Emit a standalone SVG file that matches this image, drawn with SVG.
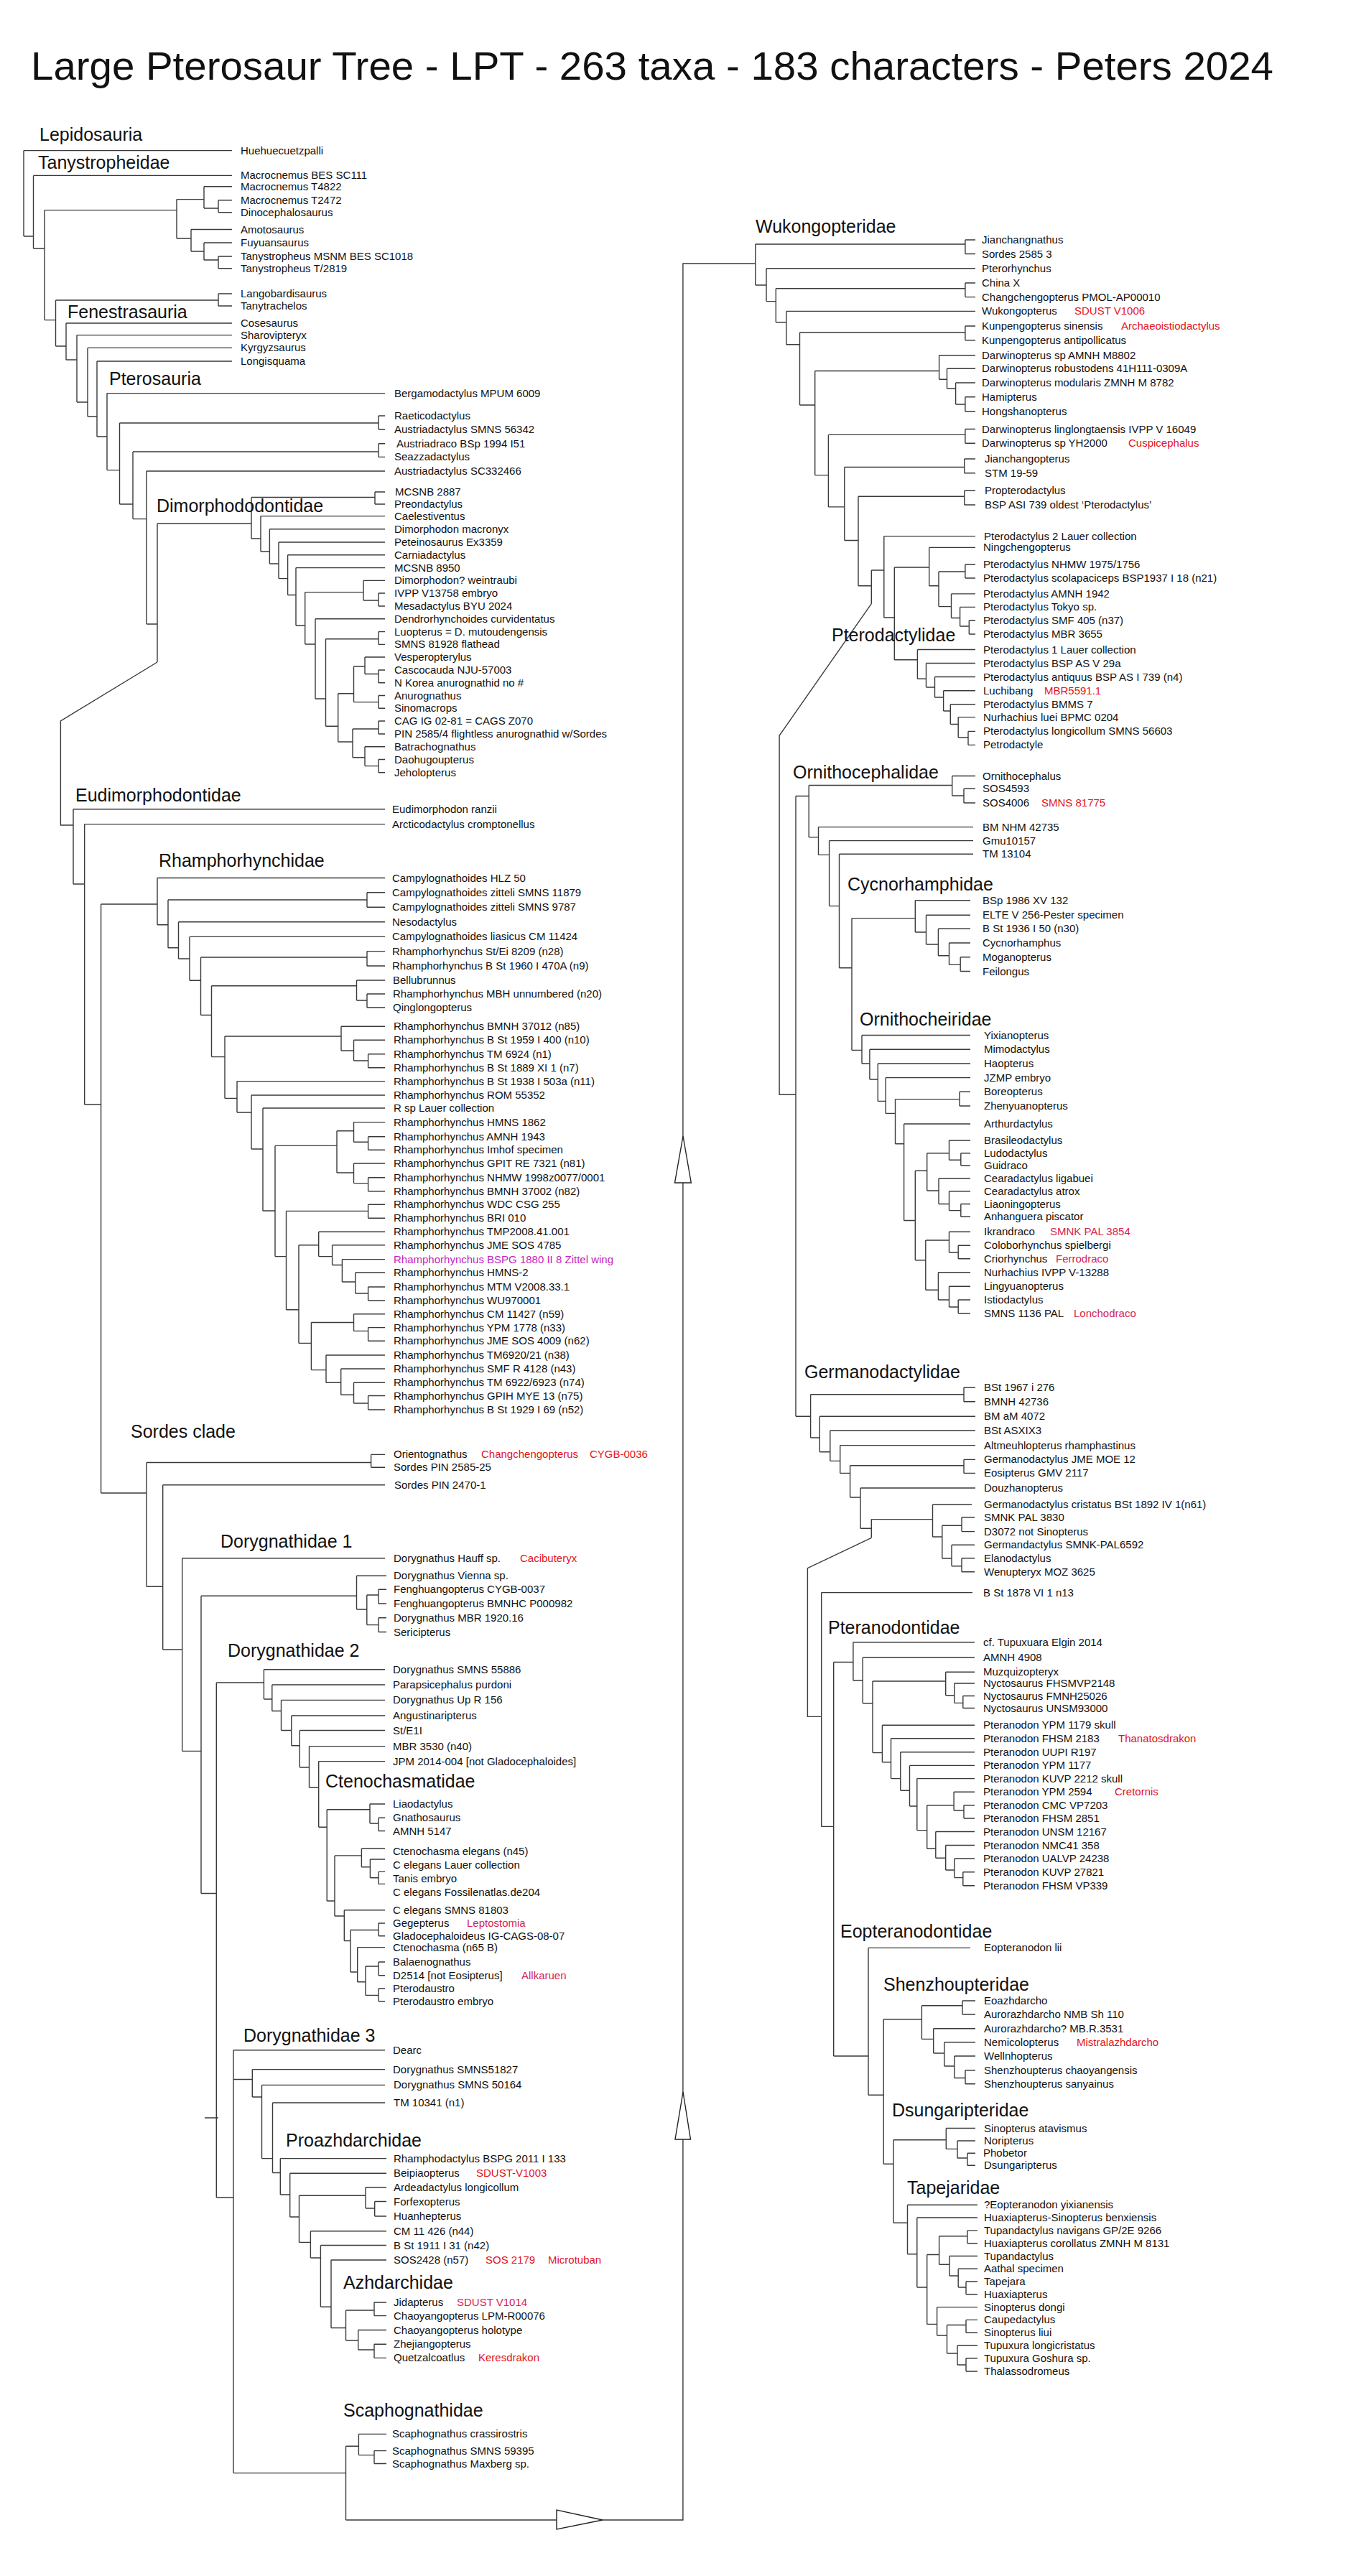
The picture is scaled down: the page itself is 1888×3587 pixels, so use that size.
<svg xmlns="http://www.w3.org/2000/svg" width="1888" height="3587" viewBox="0 0 1888 3587">
<style>
text{font-family:"Liberation Sans",Arial,sans-serif;fill:#111}
.t{font-size:15px}
.c{font-size:25px}
.r{fill:#e3131b}
.k{fill:#d42653}
.m{fill:#c51fc0}
.ln{fill:none;stroke:#3a3a3a;stroke-width:1.4}
.tri{fill:#fff;stroke:#222;stroke-width:1.4}
</style>
<rect width="1888" height="3587" fill="#fff"/>
<text id="title" x="43" y="111" font-size="56" textLength="1730" lengthAdjust="spacingAndGlyphs">Large Pterosaur Tree - LPT - 263 taxa - 183 characters - Peters 2024</text>

<g id="connectors">
<path class="ln" d="M33 209.6V329M33 209.6H323M33 329H46.5M46.5 244.4V346M46.5 244.4H323M46.5 346H62M62 292.6V445.6M62 292.6H246M62 445.6H77.5M246 277.6V332M246 277.6H284M246 332H266M284 259.8V290M284 259.8H323M284 290H304M304 278.8V295.8M304 278.8H323M304 295.8H323M266 319.5V350M266 319.5H323M266 350H284M284 338V362M284 338H323M284 362H304M304 357V373.7M304 357H323M304 373.7H323M77.5 418V482M77.5 418H304M77.5 482H92M304 409V426M304 409H323M304 426H323M92 450V501M92 450H323M92 501H107M107 466.6V560M107 466.6H323M107 560H122M122 484.4V580M122 484.4H323M122 580H135M135 503V608M135 503H323M135 608H149"/>
<path class="ln" d="M149 547.6V654.6M149 547.6H536M149 654.6H166.5M166.5 589V702M166.5 589H527M166.5 702H185M527 579V598M527 579H536M527 598H536M185 629V722.6M185 629H527M185 722.6H204M527 617.8V636.4M527 617.8H536M527 636.4H536M204 656V869M204 656H536M204 869H219M219 729V922M219 729H350M219 922L84.4 1004V1149H102"/>
<path class="ln" d="M350 692.5V750M350 692.5H522M350 750H363M522 685V702M522 685H536M522 702H536M363 718.6V768M363 718.6H536M363 768H375.4M375.4 736.8V785M375.4 736.8H536M375.4 785H388M388 755V805.6M388 755H536M388 805.6H400.6M400.6 772.8V828.5M400.6 772.8H536M400.6 828.5H412M412 790.6V871M412 790.6H536M412 871H424.7M424.7 824.6V897M424.7 824.6H506M424.7 897H439M506 808.4V836M506 808.4H536M506 836H527M527 826V844M527 826H536M527 844H536M439 861.8V973M439 861.8H536M439 973H453.5M453.5 889.8V1011.2M453.5 889.8H527M453.5 1011.2H470.7M527 879.6V897.4M527 879.6H536M527 897.4H536M470.7 965.8V1033M470.7 965.8H492.5M470.7 1033H491M492.5 928V977.6M492.5 928H508M492.5 977.6H527M508 915V938.5M508 915H536M508 938.5H527M527 933V950.7M527 933H536M527 950.7H536M527 968.5V986.3M527 968.5H536M527 986.3H536M491 1015V1054.7M491 1015H527M491 1054.7H508M527 1004V1022M527 1004H536M527 1022H536M508 1039.7V1066.6M508 1039.7H536M508 1066.6H527M527 1057.5V1075.7M527 1057.5H536M527 1075.7H536"/>
<path class="ln" d="M102 1126.7V1231M102 1126.7H536M102 1231H117.7M117.7 1147.6V1538M117.7 1147.6H536M117.7 1538H140.6M140.6 1259V2079M140.6 1259H219M140.6 2079H204M219 1222.5V1287.8M219 1222.5H536M219 1287.8H234M234 1253V1319.8M234 1253H511M234 1319.8H248.5M511 1242.7V1263.3M511 1242.7H536M511 1263.3H536M248.5 1283.8V1335M248.5 1283.8H536M248.5 1335H264M264 1304.4V1365.3M264 1304.4H536M264 1365.3H279.5M279.5 1333V1413.5M279.5 1333H511M279.5 1413.5H294.5M511 1324.6V1345M511 1324.6H536M511 1345H536M294.5 1372.8V1471.6M294.5 1372.8H496.5M294.5 1471.6H313M496.5 1365V1393M496.5 1365H536M496.5 1393H511M511 1384V1403M511 1384H536M511 1403H536M313 1443V1529.4M313 1443H475M313 1529.4H330M475 1429.3V1463M475 1429.3H536M475 1463H492.5M492.5 1448.3V1477M492.5 1448.3H536M492.5 1477H512.6M512.6 1467.7V1486.7M512.6 1467.7H536M512.6 1486.7H536M330 1505.6V1549M330 1505.6H536M330 1549H350M350 1525V1600M350 1525H536M350 1600H366M366 1543V1686M366 1543H536M366 1686H383M383 1595.4V1749.6M383 1595.4H469M383 1749.6H398.5M469 1574.8V1633M469 1574.8H492.5M469 1633H492.5M492.5 1562.6V1590.3M492.5 1562.6H536M492.5 1590.3H512.6M512.6 1582.8V1601.3M512.6 1582.8H536M512.6 1601.3H536M492.5 1620V1647.6M492.5 1620H536M492.5 1647.6H512.6M512.6 1639.7V1658.7M512.6 1639.7H536M512.6 1658.7H536M398.5 1686.4V1823.7M398.5 1686.4H512.6M398.5 1823.7H416M512.6 1677.3V1696.3M512.6 1677.3H536M512.6 1696.3H536M416 1733.8V1870.4M416 1733.8H443.7M416 1870.4H433.4M443.7 1715.2V1749.6M443.7 1715.2H536M443.7 1749.6H462.6M462.6 1733.8V1761.5M462.6 1733.8H536M462.6 1761.5H476.4M476.4 1753.6V1785M476.4 1753.6H536M476.4 1785H494.8M494.8 1772V1801M494.8 1772H536M494.8 1801H512.6M512.6 1792V1811M512.6 1792H536M512.6 1811H536M433.4 1841.5V1907.6M433.4 1841.5H492.5M433.4 1907.6H454M492.5 1829.7V1853.4M492.5 1829.7H536M492.5 1853.4H512.6M512.6 1848.6V1867.2M512.6 1848.6H536M512.6 1867.2H536M454 1887V1925.3M454 1887H536M454 1925.3H474.7M474.7 1906V1942.3M474.7 1906H536M474.7 1942.3H492.5M492.5 1925.3V1954M492.5 1925.3H536M492.5 1954H512.6M512.6 1943.5V1963M512.6 1943.5H536M512.6 1963H536"/>
<path class="ln" d="M204 2036.5V2209.2M204 2036.5H516.6M204 2209.2H226.7M516.6 2025.4V2043.2M516.6 2025.4H536M516.6 2043.2H536M226.7 2067.7V2297M226.7 2067.7H536M226.7 2297H253.7M253.7 2169.7V2438.4M253.7 2169.7H536M253.7 2438.4H280M280 2222.3V2636.5M280 2222.3H496.5M280 2636.5H301.3M496.5 2194.2V2241M496.5 2194.2H538M496.5 2241H510.8M510.8 2221V2262.6M510.8 2221H527M510.8 2262.6H527M527 2213.2V2233M527 2213.2H538M527 2233H538M527 2252.7V2272.5M527 2252.7H538M527 2272.5H538M301.3 2343V3060M301.3 2343H367.4M301.3 3060H325M285 2949H304M367.4 2324.7V2366M367.4 2324.7H536M367.4 2366H378.8M378.8 2346V2382.5M378.8 2346H536M378.8 2382.5H391.5M391.5 2367.4V2409.5M391.5 2367.4H536M391.5 2409.5H405.8M405.8 2389V2430.8M405.8 2389H536M405.8 2430.8H417.3M417.3 2409.5V2461M417.3 2409.5H536M417.3 2461H430.5M430.5 2431.6V2489M430.5 2431.6H536M430.5 2489H443.7M443.7 2452.6V2544.3M443.7 2452.6H536M443.7 2544.3H455.2M455.2 2519.8V2647M455.2 2519.8H515M455.2 2647H466M515 2512V2539M515 2512H536M515 2539H527M527 2531.3V2549.5M527 2531.3H536M527 2549.5H536M466 2583.9V2668M466 2583.9H503.4M466 2668H479.3M503.4 2574V2599.7M503.4 2574H536M503.4 2599.7H515.4M515.4 2589V2614.7M515.4 2589H536M515.4 2614.7H527M527 2606.4V2623.4M527 2606.4H536M527 2623.4H536M479.3 2659.8V2702.5M479.3 2659.8H536M479.3 2702.5H488M488 2687.5V2746M488 2687.5H527M488 2746H497.7M527 2678V2695.8M527 2678H536M527 2695.8H536M497.7 2711.6V2759.8M497.7 2711.6H536M497.7 2759.8H509M509 2738V2778.4M509 2738H527M509 2778.4H527M527 2732V2750.7M527 2732H536M527 2750.7H536M527 2769V2786.7M527 2769H536M527 2786.7H536"/>
<path class="ln" d="M325 2854.7V3443.6M325 2854.7H536M325 2895.5H351.3M325 3443.6H481.5M351.3 2881.6V2920M351.3 2881.6H536M351.3 2920H364.5M364.5 2903.4V3005.6M364.5 2903.4H536M364.5 3005.6H379.5M379.5 2928V3025.5M379.5 2928H536M379.5 3025.5H390.3M390.3 3005.6V3056M390.3 3005.6H538M390.3 3056H403.7M403.7 3026.2V3087M403.7 3026.2H538M403.7 3087H416.5M416.5 3057.3V3122.4M416.5 3057.3H509M416.5 3122.4H432.4M509 3045.7V3075M509 3045.7H538M509 3075H521.7M521.7 3065.5V3086M521.7 3065.5H538M521.7 3086H538M432.4 3106.7V3144M432.4 3106.7H538M432.4 3144H446.4M446.4 3126.5V3212.3M446.4 3126.5H538M446.4 3212.3H461M461 3147V3241.5M461 3147H538M461 3241.5H481.5M481.5 3217V3259M481.5 3217H521M481.5 3259H498.7M521 3206V3224.6M521 3206H538M521 3224.6H538M498.7 3244.5V3272M498.7 3244.5H538M498.7 3272H521M521 3264.3V3283.4M521 3264.3H538M521 3283.4H538M481.5 3406.2V3509M481.5 3406.2H499.4M481.5 3509H950.9V367H1051.8M499.4 3389.4V3418.6M499.4 3389.4H538M499.4 3418.6H521M521 3412.6V3430.5M521 3412.6H538M521 3430.5H538"/>
<path class="ln" d="M1051.8 340V397M1051.8 340H1343.9M1051.8 397H1067M1343.9 334V353.5M1343.9 334H1358M1343.9 353.5H1358M1067 373.7V419.6M1067 373.7H1358M1067 419.6H1080.3M1080.3 401.8V448.8M1080.3 401.8H1343.9M1080.3 448.8H1094.8M1343.9 394V413.6M1343.9 394H1358M1343.9 413.6H1358M1094.8 433.4V479.7M1094.8 433.4H1358M1094.8 479.7H1113.5M1113.5 463V564M1113.5 463H1343.9M1113.5 564H1134.7M1343.9 454V473.7M1343.9 454H1358M1343.9 473.7H1358M1134.7 516.5V661.6M1134.7 516.5H1307.6M1134.7 661.6H1153.4M1307.6 494.7V528.3M1307.6 494.7H1358M1307.6 528.3H1318.5M1318.5 513.3V541M1318.5 513.3H1358M1318.5 541H1330.6M1330.6 533V563M1330.6 533H1358M1330.6 563H1343.9M1343.9 552.8V573M1343.9 552.8H1358M1343.9 573H1358M1153.4 605.4V705.9M1153.4 605.4H1343.9M1153.4 705.9H1175.8M1343.9 597.5V617.3M1343.9 597.5H1358M1343.9 617.3H1358M1175.8 650.5V752.5M1175.8 650.5H1342.7M1175.8 752.5H1195M1342.7 639V658.8M1342.7 639H1358M1342.7 658.8H1358M1195 691.2V815.8M1195 691.2H1342.7M1195 815.8H1213.3M1342.7 683.3V703M1342.7 683.3H1358M1342.7 703H1358M1213.3 794V840.7M1213.3 794H1230.8M1213.3 840.7L1085.1 1024.3V1524.3H1108"/>
<path class="ln" d="M1230.8 746.6V860M1230.8 746.6H1358M1230.8 860H1245.3M1245.3 790V918.8M1245.3 790H1293.7M1245.3 918.8H1277.4M1293.7 762.4V815.8M1293.7 762.4H1358M1293.7 815.8H1307M1307 796V844.6M1307 796H1343.9M1307 844.6H1324.5M1343.9 786V805M1343.9 786H1358M1343.9 805H1358M1324.5 826.9V860.5M1324.5 826.9H1358M1324.5 860.5H1336.6M1336.6 845.4V872M1336.6 845.4H1358M1336.6 872H1349.3M1349.3 864V883M1349.3 864H1358M1349.3 883H1358M1277.4 904.5V945.2M1277.4 904.5H1358M1277.4 945.2H1289.5M1289.5 923.5V957M1289.5 923.5H1358M1289.5 957H1301.5M1301.5 942.5V971M1301.5 942.5H1358M1301.5 971H1313.6M1313.6 961.8V990M1313.6 961.8H1358M1313.6 990H1323.3M1323.3 980.8V1008.5M1323.3 980.8H1358M1323.3 1008.5H1334.2M1334.2 998.6V1027M1334.2 998.6H1358M1334.2 1027H1348M1348 1018.4V1037.4M1348 1018.4H1358M1348 1037.4H1358"/>
<path class="ln" d="M1108 1108.5V1972.3M1108 1108.5H1126.2M1108 1972.3H1128.6M1126.2 1093.5V1165.9M1126.2 1093.5H1325.7M1126.2 1165.9H1139.5M1325.7 1080.5V1108M1325.7 1080.5H1358M1325.7 1108H1342M1342 1098.3V1118M1342 1098.3H1358M1342 1118H1358M1139.5 1151.6V1190.4M1139.5 1151.6H1355M1139.5 1190.4H1154.6M1154.6 1170.6V1261.6M1154.6 1170.6H1355M1154.6 1261.6H1168.5M1168.5 1189.2V1347.8M1168.5 1189.2H1355M1168.5 1347.8H1186M1186 1278.6V1462.4M1186 1278.6H1274.3M1186 1462.4H1200M1274.3 1253.7V1298M1274.3 1253.7H1351M1274.3 1298H1289.5M1289.5 1274.2V1315M1289.5 1274.2H1351M1289.5 1315H1306.4M1306.4 1293.2V1330.8M1306.4 1293.2H1351M1306.4 1330.8H1321.5M1321.5 1313V1343.4M1321.5 1313H1351M1321.5 1343.4H1337.2M1337.2 1332.7V1352.5M1337.2 1332.7H1351M1337.2 1352.5H1351"/>
<path class="ln" d="M1200 1441.5V1481M1200 1441.5H1351M1200 1481H1210.9M1210.9 1461.3V1503M1210.9 1461.3H1351M1210.9 1503H1222.3M1222.3 1481V1533.4M1222.3 1481H1351M1222.3 1533.4H1233.2M1233.2 1500.6V1550.4M1233.2 1500.6H1351M1233.2 1550.4H1246.5M1246.5 1530.6V1592.7M1246.5 1530.6H1336M1246.5 1592.7H1258.6M1336 1520.3V1540M1336 1520.3H1351M1336 1540H1351M1258.6 1565V1699.5M1258.6 1565H1351M1258.6 1699.5H1274.3M1274.3 1630.3V1754.8M1274.3 1630.3H1290.7M1274.3 1754.8H1288.8M1290.7 1605.7V1658M1290.7 1605.7H1321.5M1290.7 1658H1307M1321.5 1588V1615.2M1321.5 1588H1351M1321.5 1615.2H1337.8M1337.8 1605.7V1623M1337.8 1605.7H1351M1337.8 1623H1351M1307 1641V1676.5M1307 1641H1351M1307 1676.5H1321.5M1321.5 1658.7V1685.6M1321.5 1658.7H1351M1321.5 1685.6H1337.8M1337.8 1676.5V1694.3M1337.8 1676.5H1351M1337.8 1694.3H1351M1288.8 1727V1796.3M1288.8 1727H1321.5M1288.8 1796.3H1306.4M1321.5 1715.3V1744M1321.5 1715.3H1351M1321.5 1744H1334.2M1334.2 1734.3V1752.8M1334.2 1734.3H1351M1334.2 1752.8H1351M1306.4 1771.8V1810M1306.4 1771.8H1351M1306.4 1810H1321.5M1321.5 1791.2V1820M1321.5 1791.2H1351M1321.5 1820H1334.2M1334.2 1810V1828.8M1334.2 1810H1351M1334.2 1828.8H1351"/>
<path class="ln" d="M1128.6 1941.8V2002M1128.6 1941.8H1342M1128.6 2002H1141.3M1342 1932V1951.7M1342 1932H1358M1342 1951.7H1358M1141.3 1972.3V2021.7M1141.3 1972.3H1358M1141.3 2021.7H1155.8M1155.8 1992V2034.4M1155.8 1992H1358M1155.8 2034.4H1169.7M1169.7 2012.6V2051.4M1169.7 2012.6H1358M1169.7 2051.4H1183.6M1183.6 2040.7V2085M1183.6 2040.7H1342M1183.6 2085H1198M1342 2032.4V2051.4M1342 2032.4H1358M1342 2051.4H1358M1198 2072V2128.2M1198 2072H1358M1198 2128.2H1213.3M1213.3 2115.6V2141.3M1213.3 2115.6H1298.5M1213.3 2141.3L1124.4 2183.6V2390.4H1143.7M1298.5 2095V2140M1298.5 2095H1353M1298.5 2140H1311.8M1311.8 2124.3V2170M1311.8 2124.3H1339M1311.8 2170H1325M1339 2112.8V2132.6M1339 2112.8H1357M1339 2132.6H1357M1325 2151.2V2180.8M1325 2151.2H1357M1325 2180.8H1339M1339 2169.8V2188.7M1339 2169.8H1357M1339 2188.7H1357"/>
<path class="ln" d="M1143.7 2217.6V2543.4M1143.7 2217.6H1354M1143.7 2543.4H1160.7M1160.7 2314.5V2863M1160.7 2314.5H1187.9M1160.7 2863H1209M1187.9 2286.8V2340M1187.9 2286.8H1357M1187.9 2340H1201.2M1201.2 2308V2371.8M1201.2 2308H1357M1201.2 2371.8H1215M1215 2341V2440.6M1215 2341H1316.7M1215 2440.6H1228.4M1316.7 2328.3V2360.7M1316.7 2328.3H1357M1316.7 2360.7H1328.8M1328.8 2344V2371.4M1328.8 2344H1357M1328.8 2371.4H1340.8M1340.8 2361.5V2378.5M1340.8 2361.5H1357M1340.8 2378.5H1357M1228.4 2402.3V2453.7M1228.4 2402.3H1357M1228.4 2453.7H1240.5M1240.5 2420.8V2476.6M1240.5 2420.8H1357M1240.5 2476.6H1253.8M1253.8 2439.8V2493.2M1253.8 2439.8H1357M1253.8 2493.2H1266.5M1266.5 2458.4V2515M1266.5 2458.4H1357M1266.5 2515H1276.8M1276.8 2476.6V2548.6M1276.8 2476.6H1357M1276.8 2548.6H1290.7M1290.7 2513.8V2574.3M1290.7 2513.8H1328.1M1290.7 2574.3H1302.8M1328.1 2495.2V2521M1328.1 2495.2H1357M1328.1 2521H1342M1342 2513.8V2532M1342 2513.8H1357M1342 2532H1357M1302.8 2550.5V2587.3M1302.8 2550.5H1357M1302.8 2587.3H1316.7M1316.7 2569.5V2604M1316.7 2569.5H1357M1316.7 2604H1328.8M1328.8 2588V2614.6M1328.8 2588H1357M1328.8 2614.6H1340.8M1340.8 2606.7V2625.7M1340.8 2606.7H1357M1340.8 2625.7H1357"/>
<path class="ln" d="M1209 2712.4V2917.2M1209 2712.4H1351M1209 2917.2H1230.2M1230.2 2811.7V3013.3M1230.2 2811.7H1283.4M1230.2 3013.3H1244M1283.4 2792.7V2839.4M1283.4 2792.7H1340M1283.4 2839.4H1299.7M1340 2786V2805M1340 2786H1358M1340 2805H1358M1299.7 2824.7V2859M1299.7 2824.7H1358M1299.7 2859H1314.8M1314.8 2843.7V2877M1314.8 2843.7H1358M1314.8 2877H1328.8M1328.8 2863V2893.5M1328.8 2863H1358M1328.8 2893.5H1344M1344 2882.8V2901.8M1344 2882.8H1358M1344 2901.8H1358M1244 2979.7V3095.2M1244 2979.7H1317.3M1244 3095.2H1263.5M1317.3 2963.5V2992.4M1317.3 2963.5H1358M1317.3 2992.4H1333M1333 2981V3005M1333 2981H1358M1333 3005H1346.9M1346.9 2998.3V3015.3M1346.9 2998.3H1358M1346.9 3015.3H1358M1263.5 3070.3V3138.7M1263.5 3070.3H1361M1263.5 3138.7H1276.8M1276.8 3088V3185M1276.8 3088H1361M1276.8 3185H1290.7M1290.7 3139.5V3236.4M1290.7 3139.5H1307.6M1290.7 3236.4H1304.6M1307.6 3113.8V3153.3M1307.6 3113.8H1346.9M1307.6 3153.3H1322M1346.9 3105.9V3123.7M1346.9 3105.9H1361M1346.9 3123.7H1361M1322 3141.5V3169M1322 3141.5H1361M1322 3169H1334.2M1334.2 3159.2V3185M1334.2 3159.2H1361M1334.2 3185H1345M1345 3177V3194.8M1345 3177H1361M1345 3194.8H1361M1304.6 3212.6V3252M1304.6 3212.6H1361M1304.6 3252H1318.5M1318.5 3237.5V3277M1318.5 3237.5H1345M1318.5 3277H1333M1345 3230.4V3248.2M1345 3230.4H1361M1345 3248.2H1361M1333 3266V3293M1333 3266H1361M1333 3293H1345M1345 3283.8V3302M1345 3283.8H1361M1345 3302H1361"/>
<polygon class="tri" points="775,3495 775,3522 839,3509"/>
<polygon class="tri" points="951,1582 939.5,1647 962.3,1647"/>
<polygon class="tri" points="951,2913 940,2979 961.5,2979"/>
</g>

<g id="basal">
<text class="c" x="55" y="196">Lepidosauria</text>
<text class="c" x="53" y="235">Tanystropheidae</text>
<text class="c" x="94" y="443">Fenestrasauria</text>
<text class="c" x="152" y="536">Pterosauria</text>
<text class="t" x="335" y="214.6">Huehuecuetzpalli</text>
<text class="t" x="335" y="249.4">Macrocnemus BES SC111</text>
<text class="t" x="335" y="264.8">Macrocnemus T4822</text>
<text class="t" x="335" y="283.8">Macrocnemus T2472</text>
<text class="t" x="335" y="300.8">Dinocephalosaurus</text>
<text class="t" x="335" y="324.5">Amotosaurus</text>
<text class="t" x="335" y="343">Fuyuansaurus</text>
<text class="t" x="335" y="362">Tanystropheus MSNM BES SC1018</text>
<text class="t" x="335" y="378.7">Tanystropheus T/2819</text>
<text class="t" x="335" y="414">Langobardisaurus</text>
<text class="t" x="335" y="431">Tanytrachelos</text>
<text class="t" x="335" y="455">Cosesaurus</text>
<text class="t" x="335" y="471.6">Sharovipteryx</text>
<text class="t" x="335" y="489.4">Kyrgyzsaurus</text>
<text class="t" x="335" y="508">Longisquama</text>
<text class="t" x="549" y="552.6">Bergamodactylus MPUM 6009</text>
<text class="t" x="549" y="584">Raeticodactylus</text>
<text class="t" x="549" y="603">Austriadactylus SMNS 56342</text>
<text class="t" x="552" y="622.8">Austriadraco BSp 1994 I51</text>
<text class="t" x="549" y="641.4">Seazzadactylus</text>
<text class="t" x="549" y="661">Austriadactylus SC332466</text>
</g>

<g id="dimorphodontidae">
<text class="c" x="218" y="713">Dimorphododontidae</text>
<text class="t" x="550" y="690">MCSNB 2887</text>
<text class="t" x="549" y="707">Preondactylus</text>
<text class="t" x="549" y="723.6">Caelestiventus</text>
<text class="t" x="549" y="741.8">Dimorphodon macronyx</text>
<text class="t" x="549" y="760">Peteinosaurus Ex3359</text>
<text class="t" x="549" y="777.8">Carniadactylus</text>
<text class="t" x="549" y="795.6">MCSNB 8950</text>
<text class="t" x="549" y="813.4">Dimorphodon? weintraubi</text>
<text class="t" x="549" y="831">IVPP V13758 embryo</text>
<text class="t" x="549" y="849">Mesadactylus BYU 2024</text>
<text class="t" x="549" y="866.8">Dendrorhynchoides curvidentatus</text>
<text class="t" x="549" y="884.6">Luopterus = D. mutoudengensis</text>
<text class="t" x="549" y="902.4">SMNS 81928 flathead</text>
<text class="t" x="549" y="920">Vesperopterylus</text>
<text class="t" x="549" y="938">Cascocauda NJU-57003</text>
<text class="t" x="549" y="955.7">N Korea anurognathid no #</text>
<text class="t" x="549" y="973.5">Anurognathus</text>
<text class="t" x="549" y="991.3">Sinomacrops</text>
<text class="t" x="549" y="1009">CAG IG 02-81 = CAGS Z070</text>
<text class="t" x="549" y="1027">PIN 2585/4 flightless anurognathid w/Sordes</text>
<text class="t" x="549" y="1044.7">Batrachognathus</text>
<text class="t" x="549" y="1062.5">Daohugoupterus</text>
<text class="t" x="549" y="1080.7">Jeholopterus</text>
</g>

<g id="eudimorphodontidae">
<text class="c" x="105" y="1116">Eudimorphodontidae</text>
<text class="t" x="546" y="1131.7">Eudimorphodon ranzii</text>
<text class="t" x="546" y="1152.6">Arcticodactylus cromptonellus</text>
</g>

<g id="rhamphorhynchidae">
<text class="c" x="221" y="1207">Rhamphorhynchidae</text>
<text class="t" x="546" y="1227.5">Campylognathoides HLZ 50</text>
<text class="t" x="546" y="1247.7">Campylognathoides zitteli SMNS 11879</text>
<text class="t" x="546" y="1268.3">Campylognathoides zitteli SMNS 9787</text>
<text class="t" x="546" y="1288.8">Nesodactylus</text>
<text class="t" x="546" y="1309.4">Campylognathoides liasicus CM 11424</text>
<text class="t" x="546" y="1329.6">Rhamphorhynchus St/Ei 8209 (n28)</text>
<text class="t" x="546" y="1350">Rhamphorhynchus B St 1960 I 470A (n9)</text>
<text class="t" x="547" y="1370">Bellubrunnus</text>
<text class="t" x="547" y="1389">Rhamphorhynchus MBH unnumbered (n20)</text>
<text class="t" x="547" y="1408">Qinglongopterus</text>
<text class="t" x="548" y="1434.3">Rhamphorhynchus BMNH 37012 (n85)</text>
<text class="t" x="548" y="1453.3">Rhamphorhynchus B St 1959 I 400 (n10)</text>
<text class="t" x="548" y="1472.7">Rhamphorhynchus TM 6924 (n1)</text>
<text class="t" x="548" y="1491.7">Rhamphorhynchus B St 1889 XI 1 (n7)</text>
<text class="t" x="548" y="1510.6">Rhamphorhynchus B St 1938 I 503a (n11)</text>
<text class="t" x="548" y="1530">Rhamphorhynchus ROM 55352</text>
<text class="t" x="548" y="1548">R sp Lauer collection</text>
<text class="t" x="548" y="1567.6">Rhamphorhynchus HMNS 1862</text>
<text class="t" x="548" y="1587.8">Rhamphorhynchus AMNH 1943</text>
<text class="t" x="548" y="1606.3">Rhamphorhynchus Imhof specimen</text>
<text class="t" x="548" y="1625">Rhamphorhynchus GPIT RE 7321 (n81)</text>
<text class="t" x="548" y="1644.7">Rhamphorhynchus NHMW 1998z0077/0001</text>
<text class="t" x="548" y="1663.7">Rhamphorhynchus BMNH 37002 (n82)</text>
<text class="t" x="548" y="1682.3">Rhamphorhynchus WDC CSG 255</text>
<text class="t" x="548" y="1701.3">Rhamphorhynchus BRI 010</text>
<text class="t" x="548" y="1720.2">Rhamphorhynchus TMP2008.41.001</text>
<text class="t" x="548" y="1738.8">Rhamphorhynchus JME SOS 4785</text>
<text class="t m" x="548" y="1758.6">Rhamphorhynchus BSPG 1880 II 8 Zittel wing</text>
<text class="t" x="548" y="1777">Rhamphorhynchus HMNS-2</text>
<text class="t" x="548" y="1797">Rhamphorhynchus MTM V2008.33.1</text>
<text class="t" x="548" y="1816">Rhamphorhynchus WU970001</text>
<text class="t" x="548" y="1834.7">Rhamphorhynchus CM 11427 (n59)</text>
<text class="t" x="548" y="1853.6">Rhamphorhynchus YPM 1778 (n33)</text>
<text class="t" x="548" y="1872.2">Rhamphorhynchus JME SOS 4009 (n62)</text>
<text class="t" x="548" y="1892">Rhamphorhynchus TM6920/21 (n38)</text>
<text class="t" x="548" y="1911">Rhamphorhynchus SMF R 4128 (n43)</text>
<text class="t" x="548" y="1930.3">Rhamphorhynchus TM 6922/6923 (n74)</text>
<text class="t" x="548" y="1948.5">Rhamphorhynchus GPIH MYE 13 (n75)</text>
<text class="t" x="548" y="1968">Rhamphorhynchus B St 1929 I 69 (n52)</text>
</g>

<g id="sordes-clade">
<text class="c" x="182" y="2002">Sordes clade</text>
<text class="t" x="548" y="2030.4">Orientognathus</text>
<text class="t r" x="670" y="2030.4">Changchengopterus</text>
<text class="t r" x="821" y="2030.4">CYGB-0036</text>
<text class="t" x="548" y="2048.2">Sordes PIN 2585-25</text>
<text class="t" x="549" y="2072.7">Sordes PIN 2470-1</text>
</g>

<g id="dorygnathidae-1">
<text class="c" x="307" y="2155">Dorygnathidae 1</text>
<text class="t" x="548" y="2174.7">Dorygnathus Hauff sp.</text>
<text class="t r" x="724" y="2174.7">Cacibuteryx</text>
<text class="t" x="548" y="2199.2">Dorygnathus Vienna sp.</text>
<text class="t" x="548" y="2218.2">Fenghuangopterus CYGB-0037</text>
<text class="t" x="548" y="2238">Fenghuangopterus BMNHC P000982</text>
<text class="t" x="548" y="2257.7">Dorygnathus MBR 1920.16</text>
<text class="t" x="548" y="2277.5">Sericipterus</text>
</g>

<g id="dorygnathidae-2">
<text class="c" x="317" y="2307">Dorygnathidae 2</text>
<text class="t" x="547" y="2329.7">Dorygnathus SMNS 55886</text>
<text class="t" x="547" y="2351">Parapsicephalus purdoni</text>
<text class="t" x="547" y="2372.4">Dorygnathus Up R 156</text>
<text class="t" x="547" y="2394">Angustinaripterus</text>
<text class="t" x="547" y="2414.5">St/E1I</text>
<text class="t" x="547" y="2436.6">MBR 3530 (n40)</text>
<text class="t" x="547" y="2457.6">JPM 2014-004 [not Gladocephaloides]</text>
</g>

<g id="ctenochasmatidae">
<text class="c" x="453" y="2489">Ctenochasmatidae</text>
<text class="t" x="547" y="2517">Liaodactylus</text>
<text class="t" x="547" y="2536.3">Gnathosaurus</text>
<text class="t" x="547" y="2554.5">AMNH 5147</text>
<text class="t" x="547" y="2583">Ctenochasma elegans (n45)</text>
<text class="t" x="547" y="2602">C elegans Lauer collection</text>
<text class="t" x="547" y="2621">Tanis embryo</text>
<text class="t" x="547" y="2639.5">C elegans Fossilenatlas.de204</text>
<text class="t" x="547" y="2664.8">C elegans SMNS 81803</text>
<text class="t" x="547" y="2683">Gegepterus</text>
<text class="t k" x="650" y="2683">Leptostomia</text>
<text class="t" x="547" y="2700.8">Gladocephaloideus IG-CAGS-08-07</text>
<text class="t" x="547" y="2716.6">Ctenochasma (n65 B)</text>
<text class="t" x="547" y="2737">Balaenognathus</text>
<text class="t" x="547" y="2755.7">D2514 [not Eosipterus]</text>
<text class="t k" x="726" y="2755.7">Allkaruen</text>
<text class="t" x="547" y="2774">Pterodaustro</text>
<text class="t" x="547" y="2791.7">Pterodaustro embryo</text>
</g>

<g id="dorygnathidae-3">
<text class="c" x="339" y="2843">Dorygnathidae 3</text>
<text class="t" x="547" y="2859.7">Dearc</text>
<text class="t" x="547" y="2886.6">Dorygnathus SMNS51827</text>
<text class="t" x="548" y="2908.4">Dorygnathus SMNS 50164</text>
<text class="t" x="548" y="2933">TM 10341 (n1)</text>
</g>

<g id="proazhdarchidae">
<text class="c" x="398" y="2989">Proazhdarchidae</text>
<text class="t" x="548" y="3010.6">Rhamphodactylus BSPG 2011 I 133</text>
<text class="t" x="548" y="3031.2">Beipiaopterus</text>
<text class="t r" x="663" y="3031.2">SDUST-V1003</text>
<text class="t" x="548" y="3050.7">Ardeadactylus longicollum</text>
<text class="t" x="548" y="3070.5">Forfexopterus</text>
<text class="t" x="548" y="3091">Huanhepterus</text>
<text class="t" x="548" y="3111.7">CM 11 426  (n44)</text>
<text class="t" x="548" y="3131.5">B St 1911 I 31 (n42)</text>
<text class="t" x="548" y="3152">SOS2428 (n57)</text>
<text class="t r" x="676" y="3152">SOS 2179</text>
<text class="t r" x="763" y="3152">Microtuban</text>
</g>

<g id="azhdarchidae">
<text class="c" x="478" y="3186.5">Azhdarchidae</text>
<text class="t" x="548" y="3211">Jidapterus</text>
<text class="t k" x="636" y="3211">SDUST V1014</text>
<text class="t" x="548" y="3229.6">Chaoyangopterus LPM-R00076</text>
<text class="t" x="548" y="3249.5">Chaoyangopterus holotype</text>
<text class="t" x="548" y="3269.3">Zhejiangopterus</text>
<text class="t" x="548" y="3288.4">Quetzalcoatlus</text>
<text class="t r" x="666" y="3288.4">Keresdrakon</text>
</g>

<g id="scaphognathidae">
<text class="c" x="478" y="3365">Scaphognathidae</text>
<text class="t" x="546" y="3394.4">Scaphognathus crassirostris</text>
<text class="t" x="546" y="3417.6">Scaphognathus SMNS 59395</text>
<text class="t" x="546" y="3435.5">Scaphognathus Maxberg sp.</text>
</g>

<g id="wukongopteridae">
<text class="c" x="1052" y="323.5">Wukongopteridae</text>
<text class="t" x="1367" y="339">Jianchangnathus</text>
<text class="t" x="1367" y="358.5">Sordes 2585 3</text>
<text class="t" x="1367" y="378.7">Pterorhynchus</text>
<text class="t" x="1367" y="399">China X</text>
<text class="t" x="1367" y="418.6">Changchengopterus PMOL-AP00010</text>
<text class="t" x="1367" y="438.4">Wukongopterus</text>
<text class="t r" x="1496" y="438.4">SDUST V1006</text>
<text class="t" x="1367" y="459">Kunpengopterus sinensis</text>
<text class="t r" x="1561" y="459">Archaeoistiodactylus</text>
<text class="t" x="1367" y="478.7">Kunpengopterus antipollicatus</text>
<text class="t" x="1367" y="499.7">Darwinopterus sp AMNH M8802</text>
<text class="t" x="1367" y="518.3">Darwinopterus robustodens 41H111-0309A</text>
<text class="t" x="1367" y="538">Darwinopterus modularis ZMNH M 8782</text>
<text class="t" x="1367" y="557.8">Hamipterus</text>
<text class="t" x="1367" y="578">Hongshanopterus</text>
<text class="t" x="1367" y="602.5">Darwinopterus linglongtaensis IVPP V 16049</text>
<text class="t" x="1367" y="622.3">Darwinopterus sp YH2000</text>
<text class="t r" x="1571" y="622.3">Cuspicephalus</text>
<text class="t" x="1371" y="644">Jianchangopterus</text>
<text class="t" x="1371" y="663.8">STM 19-59</text>
<text class="t" x="1371" y="688.3">Propterodactylus</text>
<text class="t" x="1371" y="708">BSP ASI 739 oldest ‘Pterodactylus’</text>
</g>

<g id="pterodactylidae">
<text class="c" x="1158" y="893">Pterodactylidae</text>
<text class="t" x="1370" y="751.6">Pterodactylus 2 Lauer collection</text>
<text class="t" x="1369" y="767.4">Ningchengopterus</text>
<text class="t" x="1369" y="791">Pterodactylus NHMW 1975/1756</text>
<text class="t" x="1369" y="810">Pterodactylus scolapaciceps BSP1937 I 18 (n21)</text>
<text class="t" x="1369" y="831.9">Pterodactylus AMNH 1942</text>
<text class="t" x="1369" y="850.4">Pterodactylus Tokyo sp.</text>
<text class="t" x="1369" y="869">Pterodactylus SMF 405 (n37)</text>
<text class="t" x="1369" y="888">Pterodactylus MBR 3655</text>
<text class="t" x="1369" y="909.5">Pterodactylus 1 Lauer collection</text>
<text class="t" x="1369" y="928.5">Pterodactylus BSP AS V 29a</text>
<text class="t" x="1369" y="947.5">Pterodactylus antiquus BSP AS I 739 (n4)</text>
<text class="t" x="1369" y="966.8">Luchibang</text>
<text class="t r" x="1454" y="966.8">MBR5591.1</text>
<text class="t" x="1369" y="985.8">Pterodactylus BMMS 7</text>
<text class="t" x="1369" y="1003.6">Nurhachius luei BPMC 0204</text>
<text class="t" x="1369" y="1023.4">Pterodactylus longicollum SMNS 56603</text>
<text class="t" x="1369" y="1042.4">Petrodactyle</text>
</g>

<g id="ornithocephalidae">
<text class="c" x="1104" y="1083.6">Ornithocephalidae</text>
<text class="t" x="1368" y="1085.5">Ornithocephalus</text>
<text class="t" x="1368" y="1103.3">SOS4593</text>
<text class="t" x="1368" y="1123">SOS4006</text>
<text class="t r" x="1450" y="1123">SMNS 81775</text>
<text class="t" x="1368" y="1156.6">BM NHM 42735</text>
<text class="t" x="1368" y="1175.6">Gmu10157</text>
<text class="t" x="1368" y="1194.2">TM 13104</text>
</g>

<g id="cycnorhamphidae">
<text class="c" x="1180" y="1240">Cycnorhamphidae</text>
<text class="t" x="1368" y="1258.7">BSp 1986 XV 132</text>
<text class="t" x="1368" y="1279.2">ELTE V 256-Pester specimen</text>
<text class="t" x="1368" y="1298.2">B St 1936 I 50 (n30)</text>
<text class="t" x="1368" y="1318">Cycnorhamphus</text>
<text class="t" x="1368" y="1337.7">Moganopterus</text>
<text class="t" x="1368" y="1357.5">Feilongus</text>
</g>

<g id="ornithocheiridae">
<text class="c" x="1197" y="1427.6">Ornithocheiridae</text>
<text class="t" x="1370" y="1446.5">Yixianopterus</text>
<text class="t" x="1370" y="1466.3">Mimodactylus</text>
<text class="t" x="1370" y="1486">Haopterus</text>
<text class="t" x="1370" y="1505.6">JZMP embryo</text>
<text class="t" x="1370" y="1525.3">Boreopterus</text>
<text class="t" x="1370" y="1545">Zhenyuanopterus</text>
<text class="t" x="1370" y="1570">Arthurdactylus</text>
<text class="t" x="1370" y="1593">Brasileodactylus</text>
<text class="t" x="1370" y="1610.7">Ludodactylus</text>
<text class="t" x="1370" y="1628">Guidraco</text>
<text class="t" x="1370" y="1646">Cearadactylus ligabuei</text>
<text class="t" x="1370" y="1663.7">Cearadactylus atrox</text>
<text class="t" x="1370" y="1681.5">Liaoningopterus</text>
<text class="t" x="1370" y="1699.3">Anhanguera piscator</text>
<text class="t" x="1370" y="1720.3">Ikrandraco</text>
<text class="t k" x="1462" y="1720.3">SMNK PAL 3854</text>
<text class="t" x="1370" y="1739.3">Coloborhynchus spielbergi</text>
<text class="t" x="1370" y="1757.8">Criorhynchus</text>
<text class="t k" x="1470" y="1757.8">Ferrodraco</text>
<text class="t" x="1370" y="1776.8">Nurhachius IVPP V-13288</text>
<text class="t" x="1370" y="1796.2">Lingyuanopterus</text>
<text class="t" x="1370" y="1815">Istiodactylus</text>
<text class="t" x="1370" y="1833.8">SMNS 1136 PAL</text>
<text class="t k" x="1495" y="1833.8">Lonchodraco</text>
</g>

<g id="germanodactylidae">
<text class="c" x="1120" y="1919">Germanodactylidae</text>
<text class="t" x="1370" y="1937">BSt 1967 i 276</text>
<text class="t" x="1370" y="1956.7">BMNH 42736</text>
<text class="t" x="1370" y="1977.3">BM aM 4072</text>
<text class="t" x="1370" y="1997">BSt ASXIX3</text>
<text class="t" x="1370" y="2017.6">Altmeuhlopterus rhamphastinus</text>
<text class="t" x="1370" y="2037.4">Germanodactylus JME MOE 12</text>
<text class="t" x="1370" y="2056.4">Eosipterus GMV 2117</text>
<text class="t" x="1370" y="2077">Douzhanopterus</text>
<text class="t" x="1370" y="2100">Germanodactylus cristatus BSt 1892 IV 1(n61)</text>
<text class="t" x="1370" y="2117.8">SMNK PAL 3830</text>
<text class="t" x="1370" y="2137.6">D3072 not Sinopterus</text>
<text class="t" x="1370" y="2156.2">Germandactylus SMNK-PAL6592</text>
<text class="t" x="1370" y="2174.8">Elanodactylus</text>
<text class="t" x="1370" y="2193.7">Wenupteryx MOZ 3625</text>
<text class="t" x="1369" y="2222.6">B St 1878 VI 1 n13</text>
</g>

<g id="pteranodontidae">
<text class="c" x="1153" y="2274.5">Pteranodontidae</text>
<text class="t" x="1369" y="2291.8">cf. Tupuxuara Elgin 2014</text>
<text class="t" x="1369" y="2313">AMNH 4908</text>
<text class="t" x="1369" y="2333.3">Muzquizopteryx</text>
<text class="t" x="1369" y="2349">Nyctosaurus FHSMVP2148</text>
<text class="t" x="1369" y="2366.5">Nyctosaurus FMNH25026</text>
<text class="t" x="1369" y="2383.5">Nyctosaurus UNSM93000</text>
<text class="t" x="1369" y="2407.3">Pteranodon YPM 1179 skull</text>
<text class="t" x="1369" y="2425.8">Pteranodon FHSM 2183</text>
<text class="t r" x="1557" y="2425.8">Thanatosdrakon</text>
<text class="t" x="1369" y="2444.8">Pteranodon UUPI R197</text>
<text class="t" x="1369" y="2463.4">Pteranodon YPM 1177</text>
<text class="t" x="1369" y="2481.6">Pteranodon KUVP 2212 skull</text>
<text class="t" x="1369" y="2500.2">Pteranodon YPM 2594</text>
<text class="t r" x="1552" y="2500.2">Cretornis</text>
<text class="t" x="1369" y="2518.8">Pteranodon CMC VP7203</text>
<text class="t" x="1369" y="2537">Pteranodon FHSM 2851</text>
<text class="t" x="1369" y="2555.5">Pteranodon UNSM 12167</text>
<text class="t" x="1369" y="2574.5">Pteranodon NMC41 358</text>
<text class="t" x="1369" y="2593">Pteranodon UALVP 24238</text>
<text class="t" x="1369" y="2611.7">Pteranodon KUVP 27821</text>
<text class="t" x="1369" y="2630.7">Pteranodon FHSM VP339</text>
</g>

<g id="eopteranodontidae">
<text class="c" x="1170" y="2698">Eopteranodontidae</text>
<text class="t" x="1370" y="2717.4">Eopteranodon lii</text>
</g>

<g id="shenzhoupteridae">
<text class="c" x="1230" y="2771.7">Shenzhoupteridae</text>
<text class="t" x="1370" y="2791">Eoazhdarcho</text>
<text class="t" x="1370" y="2810">Aurorazhdarcho NMB Sh 110</text>
<text class="t" x="1370" y="2829.7">Aurorazhdarcho? MB.R.3531</text>
<text class="t" x="1370" y="2848.7">Nemicolopterus</text>
<text class="t r" x="1499" y="2848.7">Mistralazhdarcho</text>
<text class="t" x="1370" y="2868">Wellnhopterus</text>
<text class="t" x="1370" y="2887.8">Shenzhoupterus chaoyangensis</text>
<text class="t" x="1370" y="2906.8">Shenzhoupterus sanyainus</text>
</g>

<g id="dsungaripteridae">
<text class="c" x="1242" y="2947">Dsungaripteridae</text>
<text class="t" x="1370" y="2968.5">Sinopterus atavismus</text>
<text class="t" x="1370" y="2986">Noripterus</text>
<text class="t" x="1369" y="3003.3">Phobetor</text>
<text class="t" x="1370" y="3020.3">Dsungaripterus</text>
</g>

<g id="tapejaridae">
<text class="c" x="1263" y="3055">Tapejaridae</text>
<text class="t" x="1370" y="3075.3">?Eopteranodon yixianensis</text>
<text class="t" x="1370" y="3093">Huaxiapterus-Sinopterus benxiensis</text>
<text class="t" x="1370" y="3110.9">Tupandactylus navigans GP/2E 9266</text>
<text class="t" x="1370" y="3128.7">Huaxiapterus corollatus ZMNH M 8131</text>
<text class="t" x="1370" y="3146.5">Tupandactylus</text>
<text class="t" x="1370" y="3164.2">Aathal specimen</text>
<text class="t" x="1370" y="3182">Tapejara</text>
<text class="t" x="1370" y="3199.8">Huaxiapterus</text>
<text class="t" x="1370" y="3217.6">Sinopterus dongi</text>
<text class="t" x="1370" y="3235.4">Caupedactylus</text>
<text class="t" x="1370" y="3253.2">Sinopterus liui</text>
<text class="t" x="1370" y="3271">Tupuxura longicristatus</text>
<text class="t" x="1370" y="3288.8">Tupuxura Goshura sp.</text>
<text class="t" x="1370" y="3307">Thalassodromeus</text>
</g>
</svg>
